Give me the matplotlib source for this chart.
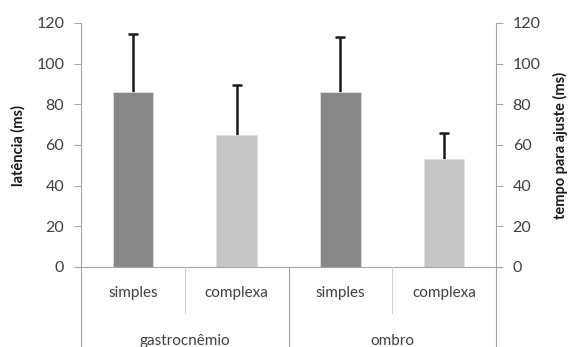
import matplotlib.pyplot as plt

plt.rcParams['font.family'] = ['Lato', 'DejaVu Sans']

grupos = ['gastrocnêmio', 'ombro']
tarefas = ['simples', 'complexa', 'simples', 'complexa']
medias = [86, 65, 86, 53]
desvios = [28.5, 24.5, 27, 13]
cores = ['#878787', '#c4c5c4', '#878787', '#c4c5c4']

texto = '#404040'
linha = '#a6a6a6'

fig = plt.figure(figsize=(5.68, 3.47), dpi=100)
ax = fig.add_axes([81 / 568, 80 / 347, 415 / 568, 244 / 347])

x = list(range(len(medias)))
ax.bar(x, medias, width=0.39, color=cores, edgecolor='#e0e0e0', linewidth=0.6, zorder=2)
# barra de erro atras da coluna: so a parte de cima aparece
ax.errorbar(x, medias, yerr=desvios, fmt='none',
            ecolor='#1a1a1a', elinewidth=1.8, capsize=3.5, capthick=1.8, zorder=1)

ax.set_xlim(-0.5, 3.5)
ax.set_ylim(0, 120)
ax.set_yticks(range(0, 121, 20))
ax.set_xticks([])
for s in ['top', 'right', 'bottom']:
    ax.spines[s].set_visible(False)
ax.spines['left'].set_color(linha)
ax.tick_params(axis='y', colors=linha, labelcolor=texto, labelsize=11.5, length=5, width=0.8, pad=7)
ax.set_ylabel('latência (ms)', fontsize=10.5, fontweight='bold', color='#1a1a1a', labelpad=8)

ax2 = ax.twinx()
ax2.set_ylim(0, 120)
ax2.set_yticks(range(0, 121, 20))
for s in ['top', 'left', 'bottom']:
    ax2.spines[s].set_visible(False)
ax2.spines['right'].set_color(linha)
ax2.tick_params(axis='y', colors=linha, labelcolor=texto, labelsize=11.5, length=5, width=0.8, pad=7)
ax2.set_ylabel('tempo para ajuste (ms)', fontsize=10.5, fontweight='bold', color='#1a1a1a', labelpad=9)

# eixo de categorias em dois niveis
tr = ax.get_xaxis_transform()
fundo = -80 / 244
ax.plot([-0.5, 3.55], [0, 0], transform=tr, color=linha, lw=0.8, clip_on=False)
for xs in [-0.5, 1.5, 3.5]:
    ax.plot([xs, xs], [0, fundo], transform=tr, color=linha, lw=0.8, clip_on=False)
for xs in [0.5, 2.5]:
    ax.plot([xs, xs], [0, -46 / 244], transform=tr, color='#d0d0d0', lw=0.8, clip_on=False)
for xi, t in zip(x, tarefas):
    ax.text(xi, -26 / 244, t, transform=tr, ha='center', va='center', fontsize=11, color=texto)
for gi, g in enumerate(grupos):
    ax.text(gi * 2 + 0.5, -74 / 244, g, transform=tr, ha='center', va='center', fontsize=11, color=texto)

fig.savefig('out.png', dpi=100)
